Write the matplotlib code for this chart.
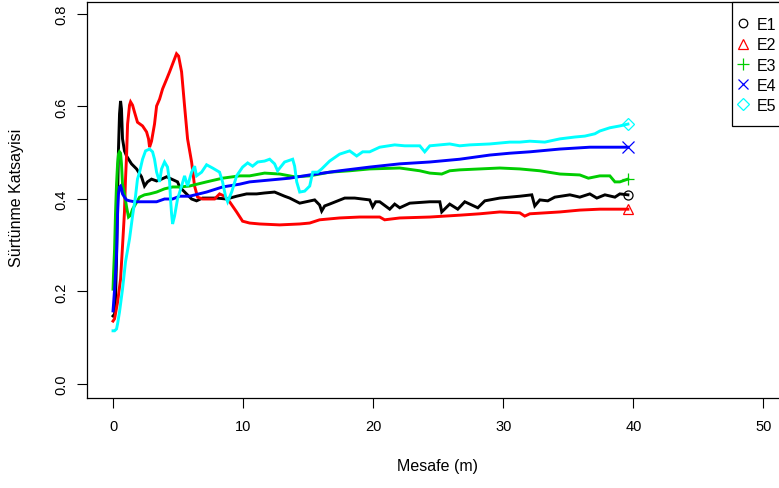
import matplotlib
matplotlib.use("Agg")
import matplotlib.pyplot as plt
from matplotlib.lines import Line2D
from matplotlib.patches import Rectangle

plt.rcParams['font.family'] = ['Liberation Sans', 'DejaVu Sans']

# ---------------- data ----------------
e1_x = [0.0, 0.12, 0.19, 0.27, 0.35, 0.42, 0.5, 0.58, 0.65, 0.73, 0.88, 1.04, 1.42, 1.81, 2.19, 2.42,
        2.65, 2.96, 3.35, 3.73, 4.12, 4.5, 4.96, 5.12, 5.65, 6.04, 6.42, 6.88, 7.96, 8.73, 9.5, 10.27,
        11.04, 11.65, 12.42, 13.19, 13.58, 14.35, 15.5, 15.88, 16.04, 16.27, 16.65, 17.81, 18.58, 19.73,
        19.96, 20.19, 20.5, 21.27, 21.65, 22.04, 22.81, 24.35, 25.12, 25.27, 25.88, 26.5, 27.04, 28.04,
        28.58, 29.73, 31.27, 32.19, 32.42, 32.81, 33.42, 33.96, 35.12, 35.88, 36.65, 37.19, 37.81, 38.58,
        38.96, 39.58]
e1_y = [0.147, 0.151, 0.184, 0.270, 0.400, 0.508, 0.584, 0.612, 0.595, 0.530, 0.504, 0.493, 0.476, 0.465,
        0.448, 0.428, 0.437, 0.443, 0.439, 0.443, 0.448, 0.443, 0.437, 0.426, 0.411, 0.400, 0.396, 0.402,
        0.402, 0.400, 0.406, 0.411, 0.411, 0.413, 0.415, 0.406, 0.402, 0.391, 0.398, 0.387, 0.374, 0.385,
        0.389, 0.402, 0.402, 0.398, 0.383, 0.394, 0.394, 0.378, 0.389, 0.381, 0.391, 0.394, 0.394, 0.372,
        0.389, 0.378, 0.394, 0.381, 0.396, 0.402, 0.406, 0.409, 0.385, 0.398, 0.396, 0.404, 0.409, 0.404,
        0.411, 0.402, 0.409, 0.404, 0.411, 0.409]

e2_x = [0.0, 0.12, 0.35, 0.58, 0.73, 0.88, 0.96, 1.04, 1.12, 1.27, 1.35, 1.5, 1.65, 1.88, 2.27, 2.58,
        2.73, 2.81, 2.96, 3.19, 3.35, 3.58, 3.81, 4.12, 4.35, 4.58, 4.73, 4.88, 5.04, 5.27, 5.5, 5.73,
        6.04, 6.27, 6.5, 6.88, 7.81, 8.19, 8.58, 8.96, 9.5, 9.96, 10.5, 11.27, 12.81, 14.35, 15.12, 15.88,
        17.42, 18.96, 20.5, 20.88, 22.04, 24.35, 26.65, 28.19, 29.73, 31.27, 31.65, 32.04, 34.35, 35.88,
        37.42, 39.58]
e2_y = [0.136, 0.141, 0.177, 0.227, 0.298, 0.372, 0.443, 0.493, 0.562, 0.603, 0.610, 0.603, 0.588, 0.566,
        0.558, 0.545, 0.530, 0.512, 0.525, 0.562, 0.601, 0.616, 0.638, 0.659, 0.675, 0.692, 0.703, 0.714,
        0.709, 0.675, 0.601, 0.530, 0.480, 0.428, 0.404, 0.400, 0.400, 0.411, 0.406, 0.394, 0.372, 0.352,
        0.348, 0.346, 0.344, 0.346, 0.348, 0.355, 0.359, 0.361, 0.361, 0.355, 0.359, 0.361, 0.365, 0.368,
        0.372, 0.370, 0.363, 0.368, 0.372, 0.376, 0.378, 0.378]

e3_x = [0.0, 0.04, 0.12, 0.19, 0.27, 0.35, 0.42, 0.5, 0.58, 0.65, 0.73, 0.88, 1.04, 1.19, 1.35, 1.5, 1.65,
        2.04, 2.42, 2.81, 3.35, 3.96, 4.58, 5.12, 5.88, 7.19, 8.42, 9.73, 10.5, 11.65, 12.81, 13.96, 15.12,
        16.65, 18.19, 19.73, 22.04, 23.58, 24.35, 25.27, 25.88, 26.65, 28.19, 29.73, 31.27, 32.81, 34.35,
        35.88, 36.54, 37.42, 38.19, 38.58, 38.96, 39.58]
e3_y = [0.205, 0.238, 0.292, 0.368, 0.432, 0.476, 0.497, 0.502, 0.499, 0.476, 0.432, 0.411, 0.383, 0.361,
        0.365, 0.378, 0.385, 0.404, 0.409, 0.411, 0.415, 0.422, 0.426, 0.426, 0.428, 0.437, 0.445, 0.450,
        0.450, 0.456, 0.454, 0.448, 0.450, 0.458, 0.461, 0.465, 0.467, 0.461, 0.456, 0.454, 0.461, 0.463,
        0.465, 0.467, 0.465, 0.461, 0.454, 0.452, 0.445, 0.450, 0.450, 0.437, 0.437, 0.443]

e4_x = [0.0, 0.04, 0.12, 0.19, 0.27, 0.35, 0.42, 0.5, 0.58, 0.65, 0.73, 0.88, 1.04, 1.27, 1.65, 2.04, 2.42,
        2.81, 3.35, 3.96, 4.58, 5.12, 5.88, 7.19, 8.42, 9.73, 10.5, 12.04, 13.58, 15.12, 17.42, 19.73, 22.04,
        24.35, 26.65, 28.96, 30.5, 32.04, 34.35, 36.65, 38.19, 39.58]
e4_y = [0.158, 0.173, 0.205, 0.238, 0.281, 0.368, 0.411, 0.426, 0.428, 0.422, 0.411, 0.404, 0.398, 0.396,
        0.394, 0.394, 0.394, 0.394, 0.394, 0.400, 0.400, 0.406, 0.406, 0.415, 0.426, 0.432, 0.437, 0.441,
        0.445, 0.452, 0.461, 0.469, 0.476, 0.480, 0.486, 0.495, 0.499, 0.502, 0.508, 0.512, 0.512, 0.512]

e5_x = [0.0, 0.12, 0.27, 0.35, 0.5, 0.73, 0.96, 1.27, 1.5, 1.73, 1.88, 2.04, 2.27, 2.5, 2.81, 3.04, 3.19,
        3.35, 3.58, 3.73, 3.96, 4.19, 4.35, 4.42, 4.5, 4.58, 4.73, 4.96, 5.27, 5.5, 5.73, 6.04, 6.27, 6.42,
        6.81, 7.19, 7.65, 8.19, 8.42, 8.65, 8.81, 9.12, 9.5, 9.96, 10.35, 10.73, 11.12, 11.65, 12.04, 12.42,
        12.65, 13.19, 13.81, 13.96, 14.12, 14.35, 14.73, 15.12, 15.35, 15.73, 16.04, 16.65, 17.42, 18.19,
        18.73, 19.19, 19.73, 20.5, 21.65, 22.42, 23.58, 23.96, 24.35, 25.88, 26.65, 27.42, 28.96, 30.5,
        31.27, 32.04, 33.19, 34.35, 35.5, 36.27, 37.04, 37.42, 38.19, 38.96, 39.58]
e5_y = [0.115, 0.115, 0.119, 0.130, 0.156, 0.205, 0.264, 0.314, 0.363, 0.406, 0.443, 0.458, 0.486, 0.504,
        0.508, 0.502, 0.486, 0.458, 0.437, 0.465, 0.480, 0.469, 0.437, 0.400, 0.368, 0.346, 0.363, 0.400,
        0.428, 0.450, 0.428, 0.458, 0.471, 0.450, 0.458, 0.474, 0.467, 0.458, 0.437, 0.406, 0.394, 0.415,
        0.450, 0.469, 0.478, 0.471, 0.480, 0.482, 0.486, 0.476, 0.461, 0.480, 0.486, 0.471, 0.437, 0.415,
        0.417, 0.428, 0.458, 0.458, 0.465, 0.482, 0.497, 0.504, 0.493, 0.502, 0.502, 0.512, 0.517, 0.515,
        0.515, 0.502, 0.515, 0.519, 0.515, 0.517, 0.519, 0.523, 0.523, 0.525, 0.523, 0.530, 0.534, 0.536,
        0.541, 0.547, 0.554, 0.558, 0.562]

labels = ["E1", "E2", "E3", "E4", "E5"]
x_ticks = [0, 10, 20, 30, 40, 50]
y_ticks = [0.0, 0.2, 0.4, 0.6, 0.8]
x_label = "Mesafe (m)"
y_label = "Sürtünme Katsayisi"

# ---------------- styling ----------------
series = [(e1_x, e1_y), (e2_x, e2_y), (e3_x, e3_y), (e4_x, e4_y), (e5_x, e5_y)]
colors = ["#000000", "#FF0000", "#00CD00", "#0000FF", "#00FFFF"]
markers = ["o", "^", "+", "x", "D"]
msizes = [6.5, 7, 9, 8, 6]

W, H = 779, 489
fig = plt.figure(figsize=(W / 100, H / 100), dpi=100)
ax = fig.add_axes([87 / W, (H - 399) / H, 702.5 / W, 396.3 / H])

for (xs, ys), c, m, ms in zip(series, colors, markers, msizes):
    ax.plot(xs, ys, color=c, lw=2.1, solid_joinstyle='miter')
    ax.plot([xs[-1]], [ys[-1]], linestyle='none', marker=m, ms=ms, mfc='none', mec=c, mew=0.9)

ax.set_xlim(-2.0, 52.0)
ax.set_ylim(-0.0303, 0.8266)
ax.set_xticks(x_ticks)
ax.set_xticklabels([str(t) for t in x_ticks])
ax.set_yticks(y_ticks)
ax.set_yticklabels(["%.1f" % t for t in y_ticks], rotation=90, va='center')
ax.tick_params(axis='both', direction='out', length=7.2, width=0.8, labelsize=10.5, colors='black')
ax.tick_params(axis='x', pad=8)
ax.tick_params(axis='y', pad=6.5)
for s in ax.spines.values():
    s.set_linewidth(0.9)
    s.set_color('black')

fig.text(437 / W, 1 - 467 / H, x_label, ha='center', va='center', fontsize=11.5)
fig.text(17 / W, 1 - 198 / H, y_label, ha='center', va='center', rotation=90, fontsize=11.5)

# legend box (runs off the right edge as in the reference)
fig.add_artist(Rectangle((732 / W, 1 - 127 / H), 80 / W, 124 / H, transform=fig.transFigure,
                         fill=True, facecolor='white', edgecolor='black', lw=0.9, clip_on=False,
                         zorder=5))
handles = [Line2D([], [], linestyle='none', marker=m, ms=ms * 0.95, mfc='none', mec=c, mew=0.9)
           for c, m, ms in zip(colors, markers, msizes)]
leg = fig.legend(handles, labels, loc='upper left', bbox_to_anchor=(736 / W, 1 - 18 / H),
                 bbox_transform=fig.transFigure, frameon=False, fontsize=11.5,
                 handlelength=0.9, handletextpad=0.4, labelspacing=0.33, borderpad=0,
                 borderaxespad=0)
leg.set_zorder(6)

fig.savefig("out.png", dpi=100)
